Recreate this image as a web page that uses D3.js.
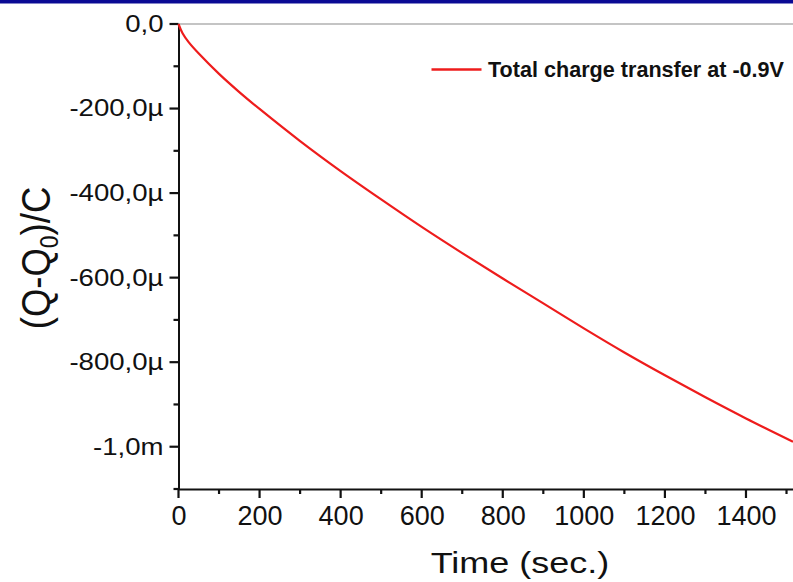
<!DOCTYPE html>
<html>
<head>
<meta charset="utf-8">
<script src="https://cdn.jsdelivr.net/npm/d3@7"></script>
<style>
  body { margin: 0; background: #fff; }
  svg { display: block; font-family: "Liberation Sans", Arial, sans-serif; }
</style>
</head>
<body>
<div class="chart"></div>
<script>
// values (time in s, charge in µC)
var timeSec = [0, 10, 25, 50, 100, 150, 200, 300, 400, 500, 600, 700, 800, 900, 1000, 1100, 1200, 1300, 1400, 1516];
var chargeMicroC = [0, -22, -43, -70, -118, -161, -201, -277, -348, -415, -480, -542, -602, -661, -720, -777, -831, -883, -933, -988];

var xTicks = [0, 200, 400, 600, 800, 1000, 1200, 1400];
var xMinorTicks = [100, 300, 500, 700, 900, 1100, 1300, 1500];
var yTicks = [0, -200, -400, -600, -800, -1000];
var yTickLabels = ['0,0', '-200,0\u00b5', '-400,0\u00b5', '-600,0\u00b5', '-800,0\u00b5', '-1,0m'];
var yMinorTicks = [-100, -300, -500, -700, -900, -1100];
var seriesName = 'Total charge transfer at -0.9V';

var width = 793, height = 582;

var svg = d3.select('.chart').append('svg')
    .attr('width', width)
    .attr('height', height);

// thin blue band at the very top
svg.append('rect')
    .attr('x', 0).attr('y', 0)
    .attr('width', width).attr('height', 3.5)
    .attr('fill', '#0a0a94');

var x = d3.scaleLinear().domain([0, 1516]).range([178.5, 793]);
var y = d3.scaleLinear().domain([-1100, 0]).range([489, 24]);

// top frame line
svg.append('line')
    .attr('x1', x(0)).attr('x2', width)
    .attr('y1', y(0)).attr('y2', y(0))
    .attr('stroke', '#8a8a8a').attr('stroke-width', 1.2);

// axes (labels + domain from d3.axis, tick marks drawn below)
var axisY0 = y(-1100), axisX0 = x(0);

var xAxis = d3.axisBottom(x).tickValues(xTicks).tickSize(0).tickSizeOuter(0).tickPadding(17)
    .tickFormat(function(d) { return String(d); });
var gx = svg.append('g').attr('class', 'axis').attr('transform', 'translate(0,' + axisY0 + ')').call(xAxis);
gx.selectAll('text')
    .attr('font-size', 27)
    .attr('fill', '#111')
    .attr('font-family', '"Liberation Sans", Arial, sans-serif');

var yAxis = d3.axisLeft(y).tickValues(yTicks).tickSize(0).tickSizeOuter(0).tickPadding(15)
    .tickFormat(function(d, i) { return yTickLabels[i]; });
var gy = svg.append('g').attr('class', 'axis').attr('transform', 'translate(' + axisX0 + ',0)').call(yAxis);
gy.selectAll('text')
    .attr('font-size', 23)
    .attr('fill', '#111')
    .attr('font-family', '"Liberation Sans", Arial, sans-serif')
    .attr('x', -15 / 1.2)
    .attr('transform', 'scale(1.2,1)');

svg.selectAll('.axis path')
    .attr('stroke', '#111')
    .attr('stroke-width', 2);

// tick marks: major and minor
var marks = svg.append('g').attr('stroke', '#111').attr('stroke-width', 2.2);
marks.selectAll('.xmaj').data(xTicks).enter().append('line')
    .attr('x1', function(d) { return x(d); }).attr('x2', function(d) { return x(d); })
    .attr('y1', axisY0).attr('y2', axisY0 + 9);
marks.selectAll('.xmin').data(xMinorTicks).enter().append('line')
    .attr('x1', function(d) { return x(d); }).attr('x2', function(d) { return x(d); })
    .attr('y1', axisY0).attr('y2', axisY0 + 5);
marks.selectAll('.ymaj').data(yTicks).enter().append('line')
    .attr('y1', function(d) { return y(d); }).attr('y2', function(d) { return y(d); })
    .attr('x1', axisX0).attr('x2', axisX0 - 9);
marks.selectAll('.ymin').data(yMinorTicks).enter().append('line')
    .attr('y1', function(d) { return y(d); }).attr('y2', function(d) { return y(d); })
    .attr('x1', axisX0).attr('x2', axisX0 - 5);

// data line
var line = d3.line()
    .x(function(d, i) { return x(timeSec[i]); })
    .y(function(d) { return y(d); })
    .curve(d3.curveCatmullRom.alpha(0.5));

svg.append('path')
    .datum(chargeMicroC)
    .attr('d', line)
    .attr('fill', 'none')
    .attr('stroke', '#ee1c1c')
    .attr('stroke-width', 2.2);

// legend
svg.append('line')
    .attr('x1', 431.5).attr('x2', 481.5)
    .attr('y1', 69.5).attr('y2', 69.5)
    .attr('stroke', '#ee1c1c').attr('stroke-width', 2.5);
svg.append('text')
    .attr('x', 488).attr('y', 77)
    .attr('font-size', 21.6)
    .attr('font-weight', 'bold')
    .attr('fill', '#111')
    .text(seriesName);

// axis titles
svg.append('text')
    .attr('transform', 'translate(520,573) scale(1.2,1)')
    .attr('text-anchor', 'middle')
    .attr('font-size', 30)
    .attr('fill', '#111')
    .text('Time (sec.)');

var yTitle = svg.append('text')
    .attr('transform', 'translate(50,258) rotate(-90) scale(1,1.12)')
    .attr('text-anchor', 'middle')
    .attr('font-size', 36.5)
    .attr('fill', '#111');
yTitle.append('tspan').text('(Q-Q');
yTitle.append('tspan').attr('font-size', 23).attr('dy', 7).text('0');
yTitle.append('tspan').attr('dy', -7).text(')/C');
</script>
</body>
</html>
